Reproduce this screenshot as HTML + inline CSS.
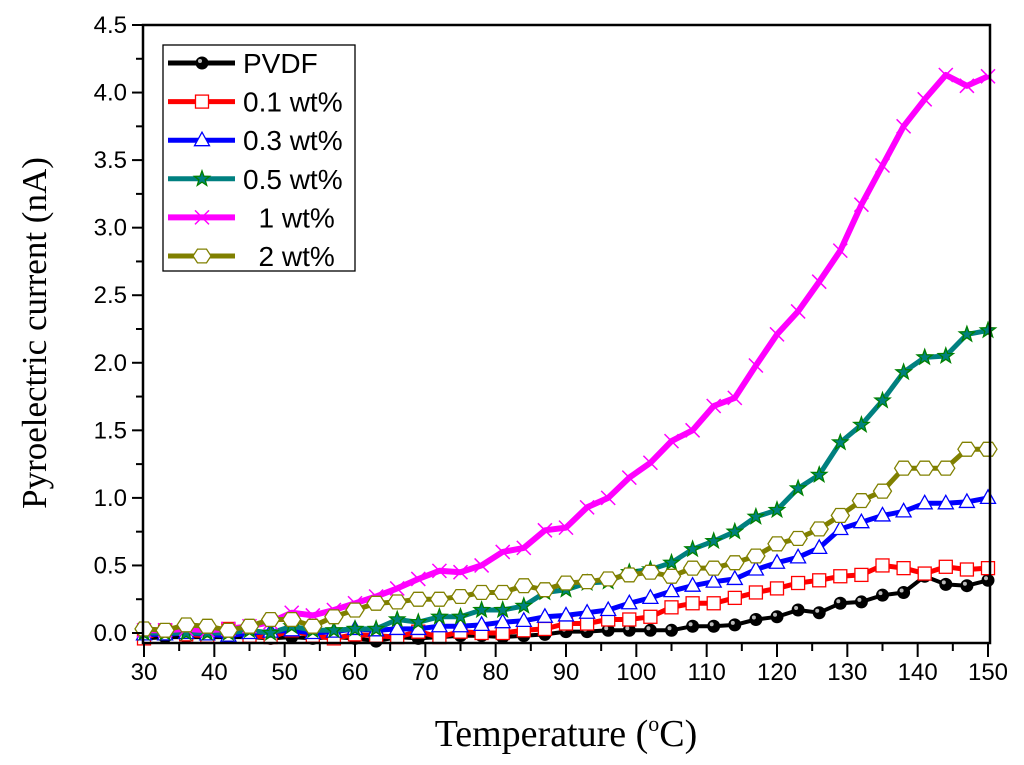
<!DOCTYPE html>
<html><head><meta charset="utf-8"><style>
body{margin:0;background:#fff}
svg{display:block;font-family:"Liberation Sans",sans-serif}
</style></head><body>
<svg id="chart" width="1024" height="765" xmlns="http://www.w3.org/2000/svg">
<g id="grid"></g>
<g id="series"></g>
<g id="axes"></g>
<g id="legend"></g>
<text x="566" y="746" text-anchor="middle" font-family="Liberation Serif,serif" font-size="38">Temperature (<tspan font-size="22" dy="-15">o</tspan><tspan dy="15">C)</tspan></text>
<text transform="translate(46,333) rotate(-90)" text-anchor="middle" font-family="Liberation Serif,serif" font-size="35">Pyroelectric current (nA)</text>
</svg>
<script>
const temps=[30,33,36,39,42,45,48,51,54,57,60,63,66,69,72,75,78,81,84,87,90,93,96,99,102,105,108,111,114,117,120,123,126,129,132,135,138,141,144,147,150];
const pvdf=[-0.04,-0.03,-0.03,-0.03,-0.03,-0.03,-0.04,-0.03,-0.04,-0.03,-0.04,-0.06,-0.03,-0.04,-0.03,-0.02,-0.02,-0.03,-0.02,-0.01,0.01,0.01,0.02,0.02,0.02,0.02,0.05,0.05,0.06,0.1,0.12,0.17,0.15,0.22,0.23,0.28,0.3,0.42,0.36,0.35,0.39];
const wt01=[-0.04,0.02,-0.01,-0.02,0.03,-0.02,-0.03,0.02,-0.02,-0.04,-0.01,-0.02,-0.03,0.01,-0.03,0.01,0.0,0.0,0.02,0.03,0.07,0.07,0.1,0.1,0.12,0.19,0.22,0.22,0.26,0.3,0.33,0.37,0.39,0.42,0.43,0.5,0.48,0.44,0.49,0.47,0.48];
const wt03=[-0.01,-0.01,0.0,-0.01,-0.02,0.0,0.01,0.02,0.0,0.01,0.03,0.02,0.03,0.03,0.05,0.05,0.06,0.08,0.09,0.12,0.13,0.15,0.17,0.22,0.26,0.31,0.35,0.38,0.4,0.47,0.52,0.56,0.63,0.77,0.82,0.87,0.9,0.96,0.96,0.97,1.0];
const wt05=[0.0,0.0,0.0,0.0,0.0,0.02,0.0,0.05,0.02,0.02,0.03,0.03,0.1,0.08,0.12,0.12,0.17,0.17,0.2,0.3,0.32,0.37,0.38,0.45,0.47,0.52,0.62,0.68,0.75,0.86,0.91,1.07,1.17,1.41,1.54,1.72,1.93,2.04,2.05,2.21,2.24];
const wt1=[0.02,0.02,0.03,0.02,0.03,0.05,0.08,0.15,0.13,0.17,0.22,0.27,0.33,0.4,0.46,0.45,0.5,0.6,0.63,0.76,0.78,0.93,1.0,1.15,1.26,1.42,1.5,1.68,1.74,1.98,2.21,2.38,2.6,2.83,3.17,3.46,3.75,3.95,4.13,4.05,4.12];
const wt2=[0.03,0.02,0.06,0.05,0.02,0.05,0.1,0.1,0.05,0.12,0.17,0.22,0.23,0.25,0.25,0.27,0.3,0.3,0.35,0.32,0.37,0.38,0.4,0.43,0.45,0.42,0.48,0.48,0.52,0.57,0.66,0.7,0.77,0.87,0.98,1.05,1.22,1.22,1.22,1.36,1.36];
const xTicks=[30,40,50,60,70,80,90,100,110,120,130,140,150];
const yTicks=[0,0.5,1,1.5,2,2.5,3,3.5,4,4.5];
const legendLabels=["PVDF","0.1 wt%","0.3 wt%","0.5 wt%","  1 wt%","  2 wt%"];

const NS="http://www.w3.org/2000/svg";
const L=143,R=990,T=25,B=643;
const X=v=>144+(v-30)*(988-144)/120;
const Y=v=>633-v*(633-25)/4.5;
function mk(tag,attrs,parent){const e=document.createElementNS(NS,tag);for(const k in attrs)e.setAttribute(k,attrs[k]);parent.appendChild(e);return e;}

const seriesDefs=[
 {data:pvdf,color:"#000",marker:"ball",name:"series-pvdf"},
 {data:wt01,color:"#ff0000",marker:"square",name:"series-0-1wt"},
 {data:wt03,color:"#0000ff",marker:"triangle",name:"series-0-3wt"},
 {data:wt05,color:"#008080",marker:"star",name:"series-0-5wt"},
 {data:wt1,color:"#ff00ff",marker:"cross",name:"series-1wt"},
 {data:wt2,color:"#808000",marker:"hex",name:"series-2wt"}
];
function drawMarker(type,x,y,color,g){
 let m;
 if(type==="ball"){m=mk("circle",{cx:x,cy:y,r:6.5,fill:"#000"},g);mk("circle",{cx:x-2,cy:y-2,r:2,fill:"#bbb"},g);}
 else if(type==="square"){m=mk("rect",{x:x-6.5,y:y-6.5,width:13,height:13,fill:"#fff",stroke:"#ff0000","stroke-width":1.3},g);}
 else if(type==="triangle"){m=mk("polygon",{points:`${x},${y-8} ${x-7.5},${y+5.5} ${x+7.5},${y+5.5}`,fill:"#fff",stroke:"#0000ff","stroke-width":1.3},g);}
 else if(type==="star"){let p=[];for(let i=0;i<10;i++){const r=i%2?3.3:8,a=-Math.PI/2+i*Math.PI/5;p.push((x+r*Math.cos(a)).toFixed(1)+","+(y+r*Math.sin(a)).toFixed(1));}m=mk("polygon",{points:p.join(" "),fill:"#008080",stroke:"#008000","stroke-width":1.3},g);}
 else if(type==="cross"){m=mk("path",{d:`M${x-7},${y-7}L${x+7},${y+7}M${x-7},${y+7}L${x+7},${y-7}`,stroke:"#ff00ff","stroke-width":1.5},g);}
 else if(type==="hex"){let p=[];for(let i=0;i<6;i++){const a=i*Math.PI/3;p.push((x+9*Math.cos(a)).toFixed(1)+","+(y+8*Math.sin(a)).toFixed(1));}m=mk("polygon",{points:p.join(" "),fill:"#fff",stroke:"#808000","stroke-width":1.3},g);}
 return m;
}
const sg=document.getElementById("series");
seriesDefs.forEach(s=>{
 const g=mk("g",{},sg);
 
 
 const pts=s.data.map((v,i)=>X(temps[i]).toFixed(1)+","+Y(v).toFixed(1)).join(" ");
 const ln=mk("polyline",{points:pts,fill:"none",stroke:s.color,"stroke-width":s.marker==="cross"?6:(s.marker==="ball"?4:5),"stroke-linejoin":"round"},g);
 
 
 s.data.forEach((v,i)=>{
  const m=drawMarker(s.marker,X(temps[i]),Y(v),s.color,g);
  
  
 });
});
const ag=document.getElementById("axes");
const frame=mk("rect",{x:L,y:T,width:R-L,height:B-T,fill:"none",stroke:"#000","stroke-width":2.5},ag);


xTicks.forEach((t,i)=>{
 mk("line",{x1:X(t),y1:B,x2:X(t),y2:B+14,stroke:"#000","stroke-width":2},ag);
 if(i<xTicks.length-1) mk("line",{x1:X(t+5),y1:B,x2:X(t+5),y2:B+8,stroke:"#000","stroke-width":2},ag);
 const tx=mk("text",{x:X(t),y:B+37,"text-anchor":"middle","font-size":24},ag);
 tx.textContent=t;
 
 
});
yTicks.forEach((t,i)=>{
 mk("line",{x1:L-11,y1:Y(t),x2:L,y2:Y(t),stroke:"#000","stroke-width":2},ag);
 if(i<yTicks.length-1) mk("line",{x1:L-7,y1:Y(t+0.25),x2:L,y2:Y(t+0.25),stroke:"#000","stroke-width":2},ag);
 const tx=mk("text",{x:L-16,y:Y(t)+8,"text-anchor":"end","font-size":24},ag);
 tx.textContent=t.toFixed(1);
 
 
});
const lg=document.getElementById("legend");


mk("rect",{x:163,y:45,width:192,height:226,fill:"#fff",stroke:"#000","stroke-width":1.3},lg);
seriesDefs.forEach((s,i)=>{
 const y=63+i*38.6;
 const e=mk("g",{},lg);
 
 
 mk("line",{x1:168,y1:y,x2:235,y2:y,stroke:s.color,"stroke-width":s.marker==="cross"?6:5},e);
 drawMarker(s.marker,202,y,s.color,e);
 const tx=mk("text",{x:243,y:y+10,"font-size":28},e);
 tx.setAttribute('style','white-space:pre');
 tx.textContent=legendLabels[i];
});
</script>
</body></html>
